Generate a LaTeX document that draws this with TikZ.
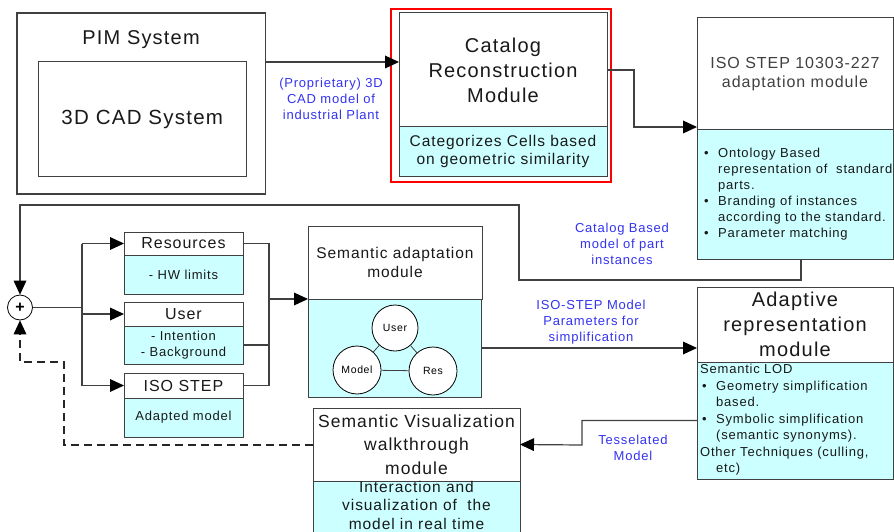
\documentclass[tikz,border=0pt]{standalone}
\usepackage{fontspec}
\setmainfont{Liberation Sans}[LetterSpace=6]
\usetikzlibrary{arrows.meta,calc}
\definecolor{cy}{HTML}{CCFFFF}
\definecolor{lbl}{HTML}{3333F0}
\definecolor{ln}{HTML}{404040}
\newcommand{\fs}[2]{\fontsize{#1}{#2}\selectfont}
\newcommand{\bul}{\makebox[16pt][l]{\hspace*{2pt}•}}
\newcommand{\ind}{\hspace*{16pt}}
\begin{document}
\begin{tikzpicture}[x=1pt,y=-1pt,
  bx/.style={draw=ln, line width=1pt, inner sep=0pt, outer sep=0pt, align=center, text=black!90},
  hd/.style={bx, fill=white},
  bd/.style={bx, fill=cy},
  con/.style={draw=ln, line width=1.2pt},
  tip/.style={-{Triangle[length=14pt,width=13pt,fill=black,line width=0pt]}},
  arr/.style={con, tip},
  lab/.style={text=lbl, align=center, font=\fs{13}{16}, inner sep=0pt},
  txt/.style={inner sep=0pt, align=center, text=black!90},
  bub/.style={circle, draw=black, line width=0.8pt, fill=white, inner sep=0pt, font=\fs{10.5}{12}},
]
\useasboundingbox (0,0) rectangle (894,532);
\clip (0,0) rectangle (894,532);

% PIM system
\node[bx, line width=1.3pt, minimum width=248.5pt, minimum height=181pt] (pim) at (141.25,103.5) {};
\node[txt, font=\fs{20}{24}] (pimt) at (141,40) {PIM System};
\node[bx, minimum width=207.5pt, minimum height=114pt, font=\fs{20.5}{24}] (cad) at (142.25,119) {3D CAD System};

% Catalog reconstruction
\node[draw=red, line width=2pt, minimum width=220pt, minimum height=173pt, inner sep=0pt] (red) at (501,95.5) {};
\node[hd, minimum width=208pt, minimum height=114pt, font=\fs{20}{25}] (cathead) at (503,70) {Catalog\\Reconstruction\\Module};
\node[bd, minimum width=208pt, minimum height=49pt, font=\fs{15.5}{18}] (catbody) at (503,151.5) {Categorizes Cells based\\on geometric similarity};

% ISO STEP 10303-227
\node[hd, minimum width=196pt, minimum height=112pt, font=\fs{16}{19}, text=black!75] (isohead) at (795,74) {ISO STEP 10303-227\\adaptation module};
\node[bd, minimum width=196pt, minimum height=129pt] (isobody) at (795,194.5) {};
\node[txt, anchor=west, align=left, font=\fs{13}{16}] (isolist) at (702,194) {\bul Ontology Based\\\ind representation of \ standard\\\ind parts.\\\bul Branding of instances\\\ind according to the standard.\\\bul Parameter matching};

% Resources / User / ISO STEP
\node[hd, minimum width=119pt, minimum height=23pt, font=\fs{16}{19}] (reshead) at (183.5,243.5) {Resources};
\node[bd, minimum width=119pt, minimum height=39pt, font=\fs{13}{16}] (resbody) at (183.5,274.5) {- HW limits};
\node[hd, minimum width=119pt, minimum height=24pt, font=\fs{16}{19}] (userhead) at (183.5,314) {User};
\node[bd, minimum width=119pt, minimum height=38pt, font=\fs{13}{16}] (userbody) at (183.5,345) {- Intention\\- Background};
\node[hd, minimum width=119pt, minimum height=25pt, font=\fs{16}{19}] (isoshead) at (183.5,385.5) {ISO STEP};
\node[bd, minimum width=119pt, minimum height=39pt, font=\fs{13}{16}] (isosbody) at (183.5,417.5) {Adapted model};

% Semantic adaptation
\node[hd, minimum width=174pt, minimum height=73pt, font=\fs{15.5}{19}] (semhead) at (395,262.5) {Semantic adaptation\\module};
\node[bd, minimum width=173pt, minimum height=98pt] (sembody) at (394.5,348) {};
\node[bub, minimum size=46pt] (bu) at (395,328) {User};
\node[bub, minimum size=48pt] (bm) at (357,370) {Model};
\node[bub, minimum size=48pt] (br) at (433,371) {Res};
\draw[draw=ln, line width=0.8pt] (bu) -- (bm) (bu) -- (br) (bm) -- (br);

% Adaptive representation
\node[hd, minimum width=196pt, minimum height=75pt, font=\fs{20}{25}] (adaphead) at (795,324.5) {Adaptive\\representation\\module};
\node[bd, minimum width=196pt, minimum height=117pt] (adapbody) at (795,420.5) {};
\node[txt, anchor=west, align=left, font=\fs{13}{16.5}] (adaplist) at (700,420) {Semantic LOD\\\bul Geometry simplification\\\ind based.\\\bul Symbolic simplification\\\ind (semantic synonyms).\\Other Techniques (culling,\\\ind etc)};

% Semantic visualization
\node[hd, minimum width=207pt, minimum height=73pt, font=\fs{17.5}{23.5}] (svhead) at (416.5,444.5) {Semantic Visualization\\walkthrough\\module};
\node[bd, minimum width=207pt, minimum height=79pt] (svbody) at (416.5,520.5) {};
\node[txt, font=\fs{15.5}{18.5}] (svtext) at (416.5,505) {Interaction and\\visualization of \ the\\model in real time};

% plus junction
\node[circle, draw=black, line width=0.8pt, fill=white, minimum size=25pt, inner sep=0pt, font=\fs{16}{16}\bfseries] (plus) at (20,307.5) {+};

% coordinates
\coordinate (c1) at (634,127);
\coordinate (k1) at (801,280);
\coordinate (k2) at (519,205);
\coordinate (bj) at (82,307.5);
\coordinate (col) at (269,299);
\coordinate (t1) at (582,445);
\coordinate (d1) at (64,362);

% connectors
\draw[arr] (pim.east |- cad.north) -- (cathead.west |- cad.north);
\draw[arr] (cathead.east) -| (c1) -- (isohead.west |- c1);
\draw[arr] (isobody.south -| k1) |- (k2 |- k1) -- (k2) -| (plus.north);
\draw[con] (plus.east) -- (bj);
\draw[con] (bj |- reshead.west) -- (bj |- isoshead.west);
\draw[arr] (bj |- reshead.west) -- (reshead.west);
\draw[arr] (bj |- userhead.west) -- (userhead.west);
\draw[arr] (bj |- isoshead.west) -- (isoshead.west);
\draw[con] (reshead.east) -| (col |- isoshead.east) -- (isoshead.east);
\draw[con] (userbody.east) -- (col |- userbody.east);
\draw[arr] (col) -- (semhead.south west);
\draw[arr] (sembody.east) -- (adaphead.west |- sembody.east);
\draw[arr] (adapbody.west) -| (t1) -- (svhead.east);
\draw[draw=black!85, line width=2pt, dash pattern=on 8pt off 5pt, tip] (svhead.west) -| (d1) -| (plus.south);

% labels
\node[lab] (l1) at (331,99) {(Proprietary) 3D\\CAD model of\\industrial Plant};
\node[lab] (l2) at (622,244) {Catalog Based\\model of part\\instances};
\node[lab] (l3) at (591,322) {ISO-STEP Model\\Parameters for\\simplification};
\node[lab] (l4) at (633,448) {Tesselated\\Model};
\end{tikzpicture}
\end{document}
